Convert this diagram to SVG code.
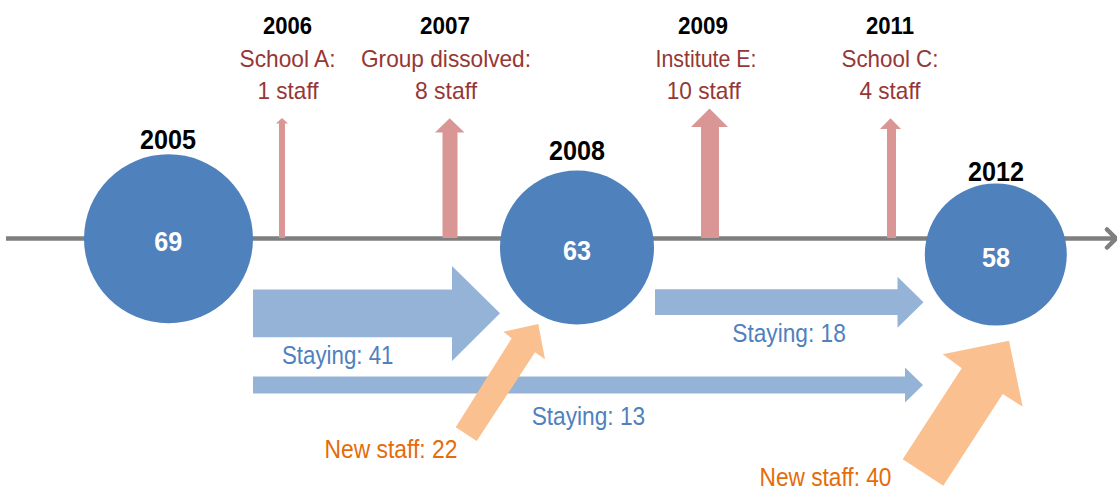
<svg xmlns="http://www.w3.org/2000/svg" width="1117" height="490" viewBox="0 0 1117 490">
  <style>
    text { font-family: "Liberation Sans", Arial, sans-serif; }
    .year { font-weight: bold; fill: #000000; }
    .yr-top { font-size: 24px; }
    .yr-node { font-size: 28.5px; }
    .event { font-size: 24px; fill: #953735; }
    .count { font-size: 28.5px; font-weight: bold; fill: #FFFFFF; }
    .flow { font-size: 26.5px; }
    .stay-lbl { fill: #4F81BD; }
    .new-lbl { fill: #E46C0A; }
    .node { fill: #4F81BD; }
    .leave { fill: #D99694; }
    .stay { fill: #95B3D7; }
    .join { fill: #FAC08F; }
    .axis { stroke: #7F7F7F; stroke-width: 4.5; fill: none; stroke-linecap: round; stroke-linejoin: round; }
  </style>

  <!-- timeline axis -->
  <g id="timeline">
    <line class="axis" x1="6" y1="238.5" x2="1114" y2="238.5" style="stroke-linecap:butt"/>
    <polyline class="axis" points="1107,229.5 1116,238.5 1107,247.5"/>
  </g>

  <!-- departures along the axis -->
  <g id="event-2006">
    <polygon class="leave" points="279,238 279,123.5 276,123.5 282,118 288,123.5 285,123.5 285,238"/>
    <text class="year yr-top" x="287.5" y="34" text-anchor="middle" textLength="49" lengthAdjust="spacingAndGlyphs">2006</text>
    <text class="event" x="287.5" y="67.3" text-anchor="middle" textLength="96" lengthAdjust="spacingAndGlyphs">School A:</text>
    <text class="event" x="288" y="99.3" text-anchor="middle" textLength="61" lengthAdjust="spacingAndGlyphs">1 staff</text>
  </g>
  <g id="event-2007">
    <polygon class="leave" points="442.5,238 442.5,132.5 435,132.5 449.7,118.3 464.5,132.5 457.5,132.5 457.5,238"/>
    <text class="year yr-top" x="445" y="34" text-anchor="middle" textLength="50" lengthAdjust="spacingAndGlyphs">2007</text>
    <text class="event" x="446" y="67.3" text-anchor="middle" textLength="170" lengthAdjust="spacingAndGlyphs">Group dissolved:</text>
    <text class="event" x="446" y="99.3" text-anchor="middle" textLength="62" lengthAdjust="spacingAndGlyphs">8 staff</text>
  </g>
  <g id="event-2009">
    <polygon class="leave" points="701,238 701,127 691,127 709.5,108.5 728,127 719,127 719,238"/>
    <text class="year yr-top" x="703" y="34" text-anchor="middle" textLength="50" lengthAdjust="spacingAndGlyphs">2009</text>
    <text class="event" x="706" y="67.3" text-anchor="middle" textLength="101" lengthAdjust="spacingAndGlyphs">Institute E:</text>
    <text class="event" x="703.7" y="99.3" text-anchor="middle" textLength="74" lengthAdjust="spacingAndGlyphs">10 staff</text>
  </g>
  <g id="event-2011">
    <polygon class="leave" points="887,238 887,129 880,129 890.5,118.3 901,129 896,129 896,238"/>
    <text class="year yr-top" x="890" y="34" text-anchor="middle" textLength="48" lengthAdjust="spacingAndGlyphs">2011</text>
    <text class="event" x="890" y="67.3" text-anchor="middle" textLength="97" lengthAdjust="spacingAndGlyphs">School C:</text>
    <text class="event" x="890" y="99.3" text-anchor="middle" textLength="61" lengthAdjust="spacingAndGlyphs">4 staff</text>
  </g>

  <!-- staff flows between snapshots -->
  <g id="connectors">
    <polygon class="stay" points="253,289.5 452,289.5 452,266 500,313.3 452,361 452,337.3 253,337.3"/>
    <polygon class="stay" points="655,289.3 897.5,289.3 897.5,276.7 923.5,302.3 897.5,327.7 897.5,315 655,315"/>
    <polygon class="stay" points="253,376.5 905,376.5 905,367.5 923,385 905,402.5 905,393.5 253,393.5"/>
    <polygon class="join" points="455.7,427.3 511.7,338.3 503.3,331.7 538.3,324 545,359.3 535,352.3 476.7,441"/>
    <polygon class="join" points="902.7,459.3 961.7,368.3 942.7,354.3 1009,340.7 1022.7,406.7 1002.7,394 943.3,485.7"/>
    <text class="flow stay-lbl" x="282" y="363.8" textLength="111.5" lengthAdjust="spacingAndGlyphs">Staying: 41</text>
    <text class="flow stay-lbl" x="732.3" y="342.3" textLength="113.5" lengthAdjust="spacingAndGlyphs">Staying: 18</text>
    <text class="flow stay-lbl" x="531.7" y="425" textLength="113.5" lengthAdjust="spacingAndGlyphs">Staying: 13</text>
    <text class="flow new-lbl" x="324.5" y="458.3" textLength="133" lengthAdjust="spacingAndGlyphs">New staff: 22</text>
    <text class="flow new-lbl" x="759.5" y="486" textLength="132" lengthAdjust="spacingAndGlyphs">New staff: 40</text>
  </g>

  <!-- staff snapshots -->
  <g id="node-2005">
    <circle class="node" cx="168.5" cy="238.7" r="84.5"/>
    <text class="year yr-node" x="168" y="149.3" text-anchor="middle" textLength="56" lengthAdjust="spacingAndGlyphs">2005</text>
    <text class="count" x="168.3" y="251" text-anchor="middle" textLength="28" lengthAdjust="spacingAndGlyphs">69</text>
  </g>
  <g id="node-2008">
    <circle class="node" cx="577" cy="247.5" r="77"/>
    <text class="year yr-node" x="577" y="160" text-anchor="middle" textLength="56" lengthAdjust="spacingAndGlyphs">2008</text>
    <text class="count" x="577" y="260" text-anchor="middle" textLength="28" lengthAdjust="spacingAndGlyphs">63</text>
  </g>
  <g id="node-2012">
    <circle class="node" cx="995.8" cy="254.5" r="71"/>
    <text class="year yr-node" x="996" y="180.7" text-anchor="middle" textLength="56" lengthAdjust="spacingAndGlyphs">2012</text>
    <text class="count" x="996" y="266.7" text-anchor="middle" textLength="28" lengthAdjust="spacingAndGlyphs">58</text>
  </g>
</svg>
